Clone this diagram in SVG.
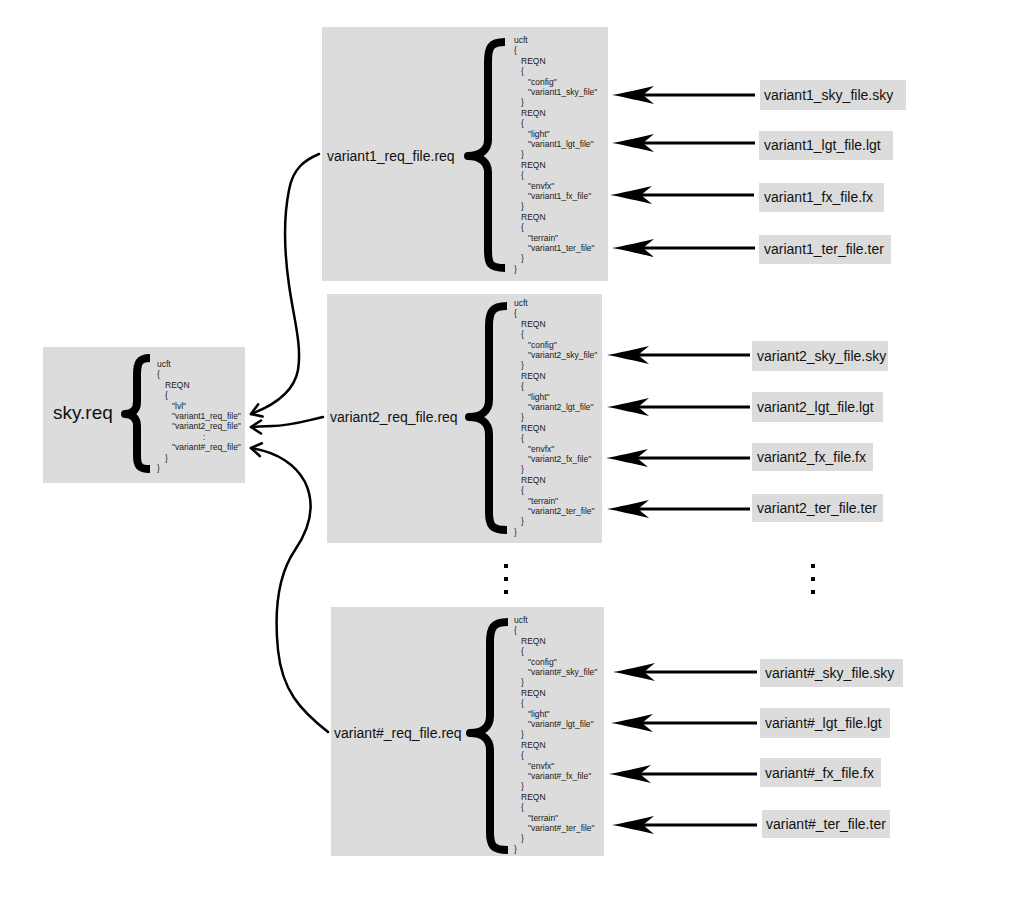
<svg xmlns="http://www.w3.org/2000/svg" width="1024" height="908" viewBox="0 0 1024 908">
<defs>
<style>
.box{fill:#dcdcdc}
.code{font-family:"Liberation Sans",Arial,sans-serif;font-size:8.5px;fill:#1a1a1a}
.lbl{font-family:"Liberation Sans",Arial,sans-serif;font-size:14px;fill:#111}
.big{font-family:"Liberation Sans",Arial,sans-serif;font-size:19px;fill:#111}
.brace{fill:none;stroke:#000;stroke-width:8;stroke-linejoin:round}
.shaft{stroke:#000;stroke-width:2.8;fill:none}
.curve{stroke:#000;stroke-width:2.5;fill:none;stroke-linecap:round}
.dot{fill:#000}
</style>
<marker id="barb" viewBox="-45 -10 47 20" markerWidth="47" markerHeight="20" refX="-20" refY="0" markerUnits="userSpaceOnUse" orient="auto" style="overflow:visible">
<path d="M0,0 C-12,-2 -28,-6 -42,-9 L-31,0 L-42,9 C-28,6 -12,2 0,0 Z" fill="#000"/>
</marker>
<marker id="vee" viewBox="-12 -8 14 16" markerWidth="14" markerHeight="16" refX="0" refY="0" markerUnits="userSpaceOnUse" orient="auto" style="overflow:visible">
<path d="M-10,-6.5 L0,0 L-10,6.5" fill="none" stroke="#000" stroke-width="2.6" stroke-linecap="round" stroke-linejoin="round"/>
</marker>
</defs>
<rect width="1024" height="908" fill="#fff"/>

<g id="sky-req">
<rect class="box" x="43" y="347" width="202" height="136"/>
<text class="big" x="53" y="419">sky.req</text>
<path class="brace" stroke-width="7" d="M150,358 C139,358 137,363 137,375 L137,402 C137,410 132,414 125,414 C132,414 137,418 137,426 L137,455 C137,466 139,469 150,469"/>
<text class="code"><tspan x="157" y="367">ucft</tspan><tspan x="157" dy="10.4">{</tspan><tspan x="165" dy="10.4">REQN</tspan><tspan x="165" dy="10.4">{</tspan><tspan x="172" dy="10.4">"lvl"</tspan><tspan x="172" dy="10.4">"variant1_req_file"</tspan><tspan x="172" dy="10.4">"variant2_req_file"</tspan><tspan x="203" dy="10.4">:</tspan><tspan x="172" dy="10.4">"variant#_req_file"</tspan><tspan x="165" dy="10.4">}</tspan><tspan x="157" dy="10.4">}</tspan></text>
</g>

<g id="variant1-req">
<rect class="box" x="322" y="27" width="286" height="254"/>
<text class="lbl" x="327" y="161">variant1_req_file.req</text>
<path class="brace" d="M505,42 C490,42 488,48 488,62 L488,140 C488,150 480,156 468,156 C480,156 488,162 488,172 L488,250 C488,264 490,268 505,268"/>
<text class="code"><tspan x="514" y="43">ucft</tspan><tspan x="514" dy="10.4">{</tspan><tspan x="521" dy="10.4">REQN</tspan><tspan x="521" dy="10.4">{</tspan><tspan x="528" dy="10.4">"config"</tspan><tspan x="528" dy="10.4">"variant1_sky_file"</tspan><tspan x="521" dy="10.4">}</tspan><tspan x="521" dy="10.4">REQN</tspan><tspan x="521" dy="10.4">{</tspan><tspan x="528" dy="10.4">"light"</tspan><tspan x="528" dy="10.4">"variant1_lgt_file"</tspan><tspan x="521" dy="10.4">}</tspan><tspan x="521" dy="10.4">REQN</tspan><tspan x="521" dy="10.4">{</tspan><tspan x="528" dy="10.4">"envfx"</tspan><tspan x="528" dy="10.4">"variant1_fx_file"</tspan><tspan x="521" dy="10.4">}</tspan><tspan x="521" dy="10.4">REQN</tspan><tspan x="521" dy="10.4">{</tspan><tspan x="528" dy="10.4">"terrain"</tspan><tspan x="528" dy="10.4">"variant1_ter_file"</tspan><tspan x="521" dy="10.4">}</tspan><tspan x="514" dy="10.4">}</tspan></text>
</g>

<g id="variant2-req">
<rect class="box" x="327" y="294" width="275" height="249"/>
<text class="lbl" x="330" y="422">variant2_req_file.req</text>
<path class="brace" d="M507,306 C492,306 489,312 489,326 L489,400 C489,411 481,417 469,417 C481,417 489,423 489,434 L489,512 C489,526 492,530 507,530"/>
<text class="code"><tspan x="514" y="306">ucft</tspan><tspan x="514" dy="10.4">{</tspan><tspan x="521" dy="10.4">REQN</tspan><tspan x="521" dy="10.4">{</tspan><tspan x="528" dy="10.4">"config"</tspan><tspan x="528" dy="10.4">"variant2_sky_file"</tspan><tspan x="521" dy="10.4">}</tspan><tspan x="521" dy="10.4">REQN</tspan><tspan x="521" dy="10.4">{</tspan><tspan x="528" dy="10.4">"light"</tspan><tspan x="528" dy="10.4">"variant2_lgt_file"</tspan><tspan x="521" dy="10.4">}</tspan><tspan x="521" dy="10.4">REQN</tspan><tspan x="521" dy="10.4">{</tspan><tspan x="528" dy="10.4">"envfx"</tspan><tspan x="528" dy="10.4">"variant2_fx_file"</tspan><tspan x="521" dy="10.4">}</tspan><tspan x="521" dy="10.4">REQN</tspan><tspan x="521" dy="10.4">{</tspan><tspan x="528" dy="10.4">"terrain"</tspan><tspan x="528" dy="10.4">"variant2_ter_file"</tspan><tspan x="521" dy="10.4">}</tspan><tspan x="514" dy="10.4">}</tspan></text>
</g>

<g id="variantN-req">
<rect class="box" x="331" y="607" width="273" height="249"/>
<text class="lbl" x="334" y="738">variant#_req_file.req</text>
<path class="brace" d="M508,622 C493,622 490,628 490,642 L490,716 C490,727 482,733 470,733 C482,733 490,739 490,750 L490,832 C490,846 493,850 508,850"/>
<text class="code"><tspan x="514" y="623">ucft</tspan><tspan x="514" dy="10.4">{</tspan><tspan x="521" dy="10.4">REQN</tspan><tspan x="521" dy="10.4">{</tspan><tspan x="528" dy="10.4">"config"</tspan><tspan x="528" dy="10.4">"variant#_sky_file"</tspan><tspan x="521" dy="10.4">}</tspan><tspan x="521" dy="10.4">REQN</tspan><tspan x="521" dy="10.4">{</tspan><tspan x="528" dy="10.4">"light"</tspan><tspan x="528" dy="10.4">"variant#_lgt_file"</tspan><tspan x="521" dy="10.4">}</tspan><tspan x="521" dy="10.4">REQN</tspan><tspan x="521" dy="10.4">{</tspan><tspan x="528" dy="10.4">"envfx"</tspan><tspan x="528" dy="10.4">"variant#_fx_file"</tspan><tspan x="521" dy="10.4">}</tspan><tspan x="521" dy="10.4">REQN</tspan><tspan x="521" dy="10.4">{</tspan><tspan x="528" dy="10.4">"terrain"</tspan><tspan x="528" dy="10.4">"variant#_ter_file"</tspan><tspan x="521" dy="10.4">}</tspan><tspan x="514" dy="10.4">}</tspan></text>
</g>

<g id="v1-sky"><rect class="box" x="760" y="80" width="146" height="30"/><text class="lbl" x="764" y="100">variant1_sky_file.sky</text></g>
<g id="v1-lgt"><rect class="box" x="759" y="131" width="134" height="29"/><text class="lbl" x="764" y="150">variant1_lgt_file.lgt</text></g>
<g id="v1-fx"><rect class="box" x="759" y="183" width="125" height="29"/><text class="lbl" x="764" y="202">variant1_fx_file.fx</text></g>
<g id="v1-ter"><rect class="box" x="759" y="235" width="132" height="29"/><text class="lbl" x="764" y="254">variant1_ter_file.ter</text></g>

<g id="v2-sky"><rect class="box" x="752" y="341" width="136" height="30"/><text class="lbl" x="757" y="361">variant2_sky_file.sky</text></g>
<g id="v2-lgt"><rect class="box" x="752" y="392" width="131" height="30"/><text class="lbl" x="757" y="412">variant2_lgt_file.lgt</text></g>
<g id="v2-fx"><rect class="box" x="752" y="443" width="121" height="28"/><text class="lbl" x="757" y="462">variant2_fx_file.fx</text></g>
<g id="v2-ter"><rect class="box" x="752" y="494" width="131" height="28"/><text class="lbl" x="757" y="513">variant2_ter_file.ter</text></g>

<g id="vN-sky"><rect class="box" x="760" y="659" width="143" height="28"/><text class="lbl" x="765" y="678">variant#_sky_file.sky</text></g>
<g id="vN-lgt"><rect class="box" x="760" y="708" width="130" height="30"/><text class="lbl" x="765" y="728">variant#_lgt_file.lgt</text></g>
<g id="vN-fx"><rect class="box" x="760" y="758" width="121" height="29"/><text class="lbl" x="765" y="778">variant#_fx_file.fx</text></g>
<g id="vN-ter"><rect class="box" x="762" y="810" width="128" height="28"/><text class="lbl" x="766" y="829">variant#_ter_file.ter</text></g>

<g id="ellipses">
<rect class="dot" x="504" y="564" width="4" height="4"/><rect class="dot" x="504" y="577" width="4" height="4"/><rect class="dot" x="504" y="590" width="4" height="4"/>
<rect class="dot" x="811" y="564" width="4" height="4"/><rect class="dot" x="811" y="577" width="4" height="4"/><rect class="dot" x="811" y="590" width="4" height="4"/>
</g>

<g id="connectors">
<line class="shaft" x1="755" y1="95" x2="632" y2="95" marker-end="url(#barb)"/>
<line class="shaft" x1="755" y1="143" x2="632" y2="143" marker-end="url(#barb)"/>
<line class="shaft" x1="754" y1="195" x2="630" y2="195" marker-end="url(#barb)"/>
<line class="shaft" x1="755" y1="248" x2="632" y2="248" marker-end="url(#barb)"/>

<line class="shaft" x1="750" y1="355" x2="627" y2="355" marker-end="url(#barb)"/>
<line class="shaft" x1="750" y1="407" x2="627" y2="407" marker-end="url(#barb)"/>
<line class="shaft" x1="750" y1="458" x2="626" y2="458" marker-end="url(#barb)"/>
<line class="shaft" x1="750" y1="509" x2="627" y2="509" marker-end="url(#barb)"/>

<line class="shaft" x1="757" y1="672" x2="633" y2="672" marker-end="url(#barb)"/>
<line class="shaft" x1="757" y1="723" x2="631" y2="723" marker-end="url(#barb)"/>
<line class="shaft" x1="757" y1="774" x2="629" y2="774" marker-end="url(#barb)"/>
<line class="shaft" x1="757" y1="825" x2="632" y2="825" marker-end="url(#barb)"/>

<path class="curve" d="M319,154 C305,160 293,168 289,190 C284,215 284,250 289,285 C294,320 302,345 298,370 C294,392 275,405 251,414" marker-end="url(#vee)"/>
<path class="curve" d="M323,417 C305,421 290,426 272,426 C263,426 257,427 251,427" marker-end="url(#vee)"/>
<path class="curve" d="M328,732 C300,710 282,690 278,650 C274,610 278,575 295,550 C310,528 316,505 305,482 C294,462 275,452 251,448" marker-end="url(#vee)"/>
</g>
</svg>
